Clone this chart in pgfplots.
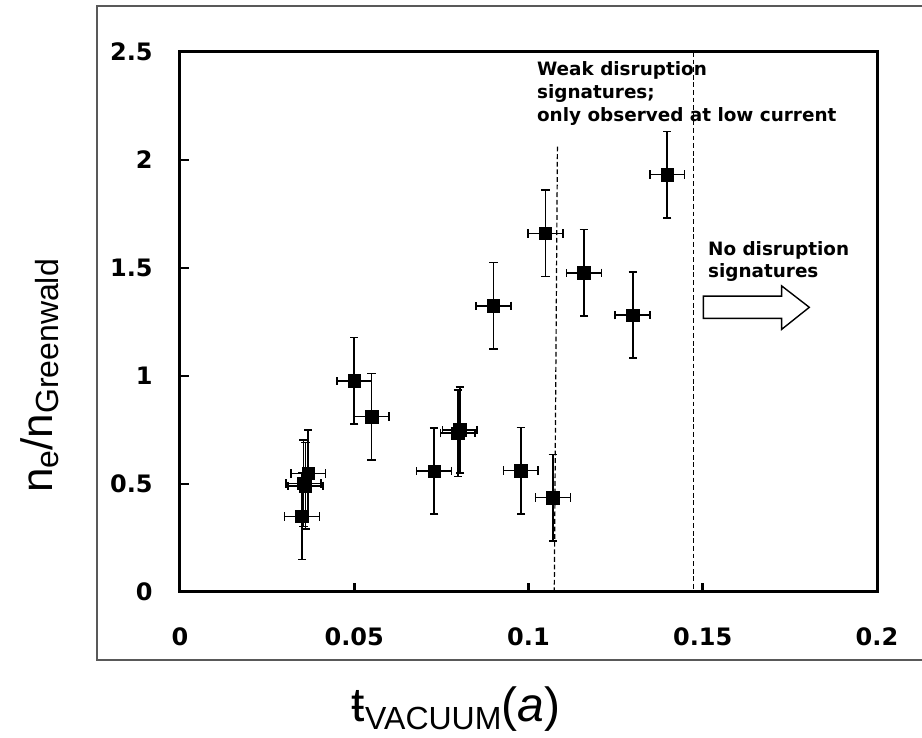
\documentclass[border=0pt]{standalone}
\usepackage{pgfplots}
\pgfplotsset{compat=1.18}
\usepackage{pgfplotstable}
\usepackage{fontspec}
\setmainfont{DejaVu Sans}
\newfontfamily\lib{Liberation Sans}

\pgfplotstableread{
x y ex ey
0.0350 0.350 0.005 0.2
0.0354 0.503 0.005 0.2
0.0360 0.492 0.005 0.2
0.0368 0.549 0.005 0.2
0.0500 0.978 0.005 0.2
0.0550 0.812 0.005 0.2
0.0729 0.560 0.005 0.2
0.0797 0.735 0.005 0.2
0.0803 0.750 0.005 0.2
0.0899 1.325 0.005 0.2
0.0978 0.562 0.005 0.2
0.1049 1.660 0.005 0.2
0.1070 0.437 0.005 0.2
0.1159 1.478 0.005 0.2
0.1299 1.282 0.005 0.2
0.1398 1.932 0.005 0.2
}\datatable

\begin{document}
\begin{tikzpicture}
\useasboundingbox (0,0) rectangle (461pt,369pt);
\draw[line width=0.9pt, black!65] (48.5pt,39pt) rectangle (480pt,366pt);
\begin{axis}[
  at={(90pt,73pt)}, anchor=south west,
  scale only axis, width=348.5pt, height=270pt,
  xmin=0, xmax=0.2, ymin=0, ymax=2.5,
  xtick={0,0.05,0.1,0.15,0.2},
  xticklabels={0,0.05,0.1,0.15,0.2},
  ytick={0,0.5,1,1.5,2,2.5},
  yticklabels={0,0.5,1,1.5,2,2.5},
  scaled x ticks=false, scaled y ticks=false,
  xtick pos=bottom, ytick pos=left,
  tick align=inside,
  major tick length=4.5pt,
  major tick style={line width=1.3pt, black},
  axis line style={line width=1.5pt, black},
  tick label style={font=\bfseries\fontsize{12}{12}\selectfont},
  yticklabel style={anchor=east, inner sep=0pt, xshift=-13.5pt},
  xticklabel style={anchor=north, inner sep=0pt, yshift=-17.5pt},
  xlabel={\lib\fontsize{24}{24}\selectfont ŧ\raisebox{-4pt}{\fontsize{16}{16}\selectfont VACUUM}(\textit{a})},
  ylabel={\lib\fontsize{22}{22}\selectfont n\raisebox{-3pt}{\fontsize{16}{16}\selectfont e}/n\raisebox{-3pt}{\fontsize{16}{16}\selectfont Greenwald}},
  xlabel style={at={(axis description cs:0.396,-0.2407)}, anchor=base, inner sep=0pt},
  ylabel style={at={(axis description cs:-0.2009,0.40)}, anchor=center, inner sep=0pt},
  clip=false,
]
\addplot[black, line width=0.6pt, dash pattern=on 2.4pt off 1.4pt] coordinates {(0.1083,2.062) (0.1074,0.0)};
\addplot[black, line width=0.6pt, dash pattern=on 2.4pt off 1.4pt] coordinates {(0.1473,2.5) (0.1473,0.0)};
\addplot[only marks, mark=square*, mark size=3.1pt, mark options={fill=black, draw=black, line width=0.3pt},
  error bars/.cd, x dir=both, x explicit, y dir=both, y explicit,
  error bar style={line width=0.8pt, black},
  error mark options={rotate=90, mark size=2.1pt, line width=0.8pt, black}]
  table[x=x, y=y, x error=ex, y error=ey] {\datatable};
% annotations
\node[anchor=base west, inner sep=0pt, font=\bfseries\fontsize{9.2}{11}\selectfont] at (axis cs:0.10235,2.389) {Weak disruption};
\node[anchor=base west, inner sep=0pt, font=\bfseries\fontsize{9.2}{11}\selectfont] at (axis cs:0.10235,2.285) {signatures;};
\node[anchor=base west, inner sep=0pt, font=\bfseries\fontsize{9.2}{11}\selectfont] at (axis cs:0.10235,2.178) {only observed at low current};
\node[anchor=base west, inner sep=0pt, font=\bfseries\fontsize{9.2}{11}\selectfont] at (axis cs:0.15142,1.560) {No disruption};
\node[anchor=base west, inner sep=0pt, font=\bfseries\fontsize{9.2}{11}\selectfont] at (axis cs:0.15142,1.457) {signatures};
\draw[line width=0.7pt, black, fill=white, line join=miter]
  (axis cs:0.15016,1.370) -- (axis cs:0.17265,1.370) -- (axis cs:0.17265,1.417)
  -- (axis cs:0.18058,1.318) -- (axis cs:0.17265,1.216) -- (axis cs:0.17265,1.267)
  -- (axis cs:0.15016,1.267) -- cycle;
\end{axis}
\end{tikzpicture}
\end{document}
